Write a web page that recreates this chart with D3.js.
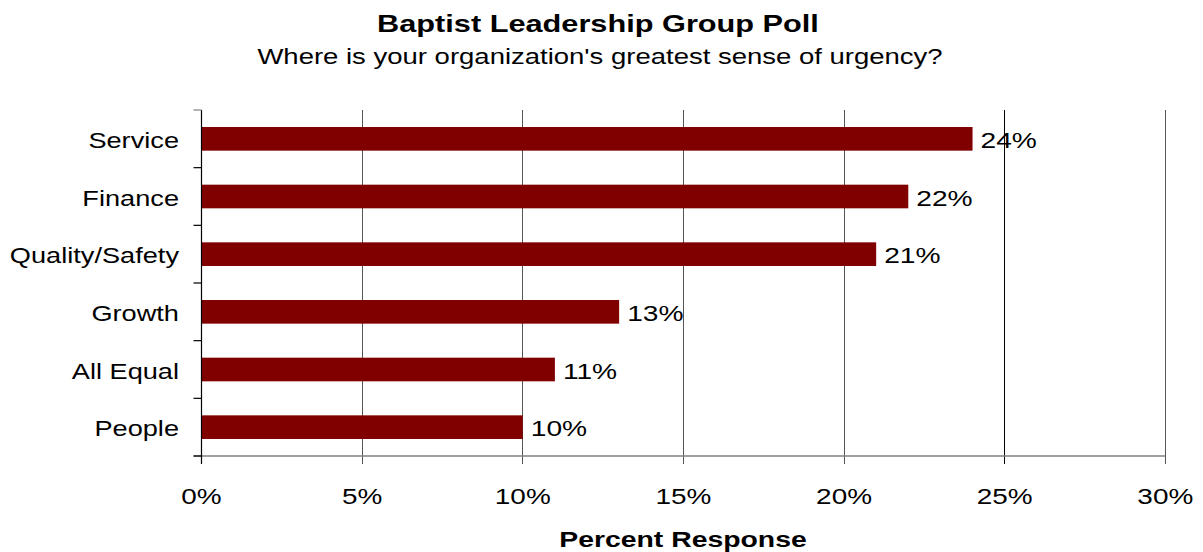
<!DOCTYPE html>
<html><head><meta charset="utf-8">
<script src="https://cdn.jsdelivr.net/npm/d3@7"></script>
<style>body{margin:0;background:#fff;} svg{display:block;font-family:"Liberation Sans",Arial,sans-serif;}</style>
</head><body>
<svg id="c" width="1203" height="552"></svg>
<script>
const categories = ["Service","Finance","Quality/Safety","Growth","All Equal","People"];
const values = [24,22,21,13,11,10];
const xTicks = [0,5,10,15,20,25,30];

(function(){
const svg = d3.select("#c");
const pL = 201.5, pR = 1165.3, pT = 110, pB = 456;
const SX = 1.25;
const x = d3.scaleLinear().domain([0,30]).range([pL,pR]);
const y = d3.scaleBand().domain(categories).range([pT,pB]).paddingInner(0.59).paddingOuter(0.295);
const tf = (tx,ty,s)=>`translate(${tx},${ty}) scale(${s||SX},1)`;

// gridlines
svg.append("g").selectAll("line").data(xTicks.slice(1)).join("line")
  .attr("x1",d=>x(d)).attr("x2",d=>x(d)).attr("y1",pT).attr("y2",pB+8)
  .attr("stroke",d=>d===25?"#000":"#555").attr("stroke-width",1).attr("shape-rendering","crispEdges");

// bars
svg.append("g").selectAll("rect").data(values).join("rect")
  .attr("x",x(0)).attr("y",(d,i)=>y(categories[i]))
  .attr("width",d=>x(d)-x(0)).attr("height",y.bandwidth())
  .attr("fill","#800000");

// value labels
svg.append("g").selectAll("text").data(values).join("text")
  .attr("transform",(d,i)=>tf(x(d)+8, y(categories[i])+y.bandwidth()/2+9, 1.28))
  .attr("font-size",22).attr("fill","#000").text(d=>d+"%");

// bottom axis line
svg.append("line").attr("x1",pL-8).attr("x2",pR).attr("y1",pB).attr("y2",pB)
  .attr("stroke","#808080").attr("stroke-width",1.5);
// left axis
svg.append("line").attr("x1",pL).attr("x2",pL).attr("y1",pT).attr("y2",pB+8)
  .attr("stroke","#000").attr("stroke-width",1.2);
// left ticks at band boundaries
const step = (pB-pT)/categories.length;
svg.append("g").selectAll("line").data(d3.range(categories.length+1)).join("line")
  .attr("x1",pL-8).attr("x2",pL).attr("y1",i=>pT+i*step).attr("y2",i=>pT+i*step)
  .attr("stroke",i=>i===0?"#808080":"#000").attr("stroke-width",1.2);

// category labels
svg.append("g").selectAll("text").data(categories).join("text")
  .attr("transform",d=>tf(179, y(d)+y.bandwidth()/2+9, 1.235))
  .attr("text-anchor","end").attr("font-size",22).attr("fill","#000").text(d=>d);

// x tick labels
svg.append("g").selectAll("text").data(xTicks).join("text")
  .attr("transform",d=>tf(x(d),503.5,1.27)).attr("text-anchor","middle")
  .attr("font-size",22).attr("fill","#000").text(d=>d+"%");

// titles
svg.append("text").attr("transform",tf(598,32,1.28)).attr("text-anchor","middle")
  .attr("font-size",24).attr("font-weight","bold").text("Baptist Leadership Group Poll");
svg.append("text").attr("transform",tf(600,63.5,1.25)).attr("text-anchor","middle")
  .attr("font-size",22).text("Where is your organization's greatest sense of urgency?");
svg.append("text").attr("transform",tf(683,547,1.29)).attr("text-anchor","middle")
  .attr("font-size",22).attr("font-weight","bold").text("Percent Response");
})();
</script>
</body></html>
